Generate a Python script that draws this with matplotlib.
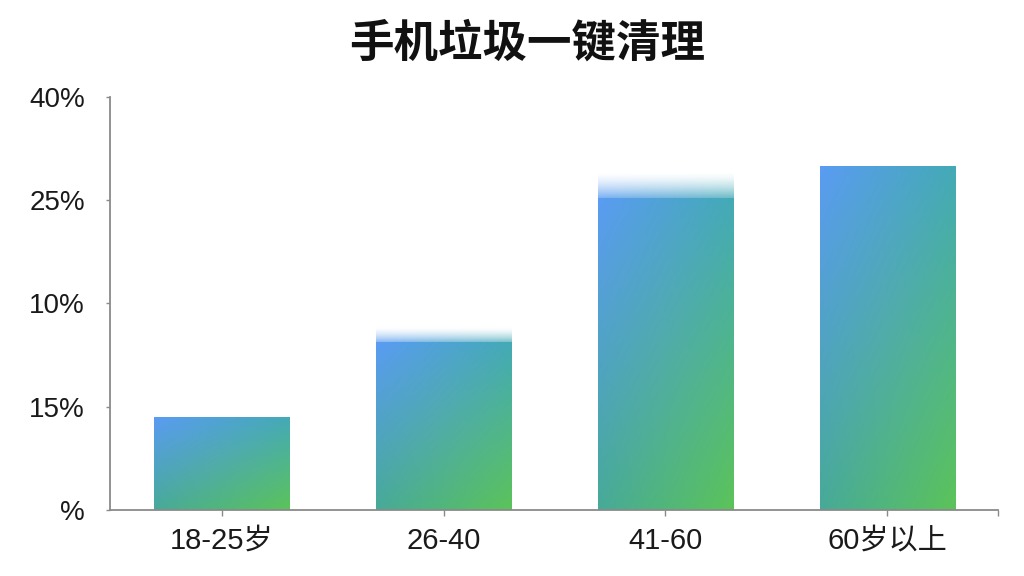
import numpy as np
import matplotlib
matplotlib.use('Agg')
import matplotlib.pyplot as plt
from matplotlib.colors import to_rgb

categories = ['18-25岁', '26-40', '41-60', '60岁以上']
values = [0.90, 1.62, 3.02, 3.33]
fade_tops = [0.90, 1.77, 3.27, 3.33]
ytick_labels = ['%', '15%', '10%', '25%', '40%']
title = '手机垃圾一键清理'

plt.rcParams['font.family'] = ['Liberation Sans', 'Noto Sans CJK SC', 'DejaVu Sans']

fig = plt.figure(figsize=(10.24, 5.76), dpi=100)
ax = fig.add_axes([0.1074, 0.1146, 0.8672, 0.717])
x = np.arange(len(categories))
width = 0.61

c_tl = np.array(to_rgb('#5a9cf2'))
c_tr = np.array(to_rgb('#44aab6'))
c_bl = np.array(to_rgb('#47aa98'))
c_br = np.array(to_rgb('#5cc35a'))
n = 64
u = np.linspace(0, 1, n)[None, :, None]
v = np.linspace(0, 1, n)[:, None, None]  # 0 = top row
img = (1-u)*(1-v)*c_tl + u*(1-v)*c_tr + (1-u)*v*c_bl + u*v*c_br

bars = ax.bar(x, values, width, color='none', edgecolor='none', zorder=2)
for rect, val, ft in zip(bars, values, fade_tops):
    x0 = rect.get_x()
    x1 = x0 + rect.get_width()
    ax.imshow(img, extent=[x0, x1, 0, val], aspect='auto', origin='upper',
              zorder=2, interpolation='bilinear')
    if ft > val:
        fade = np.zeros((n, n, 4))
        col = (1-u)*c_tl + u*c_tr
        fade[..., :3] = np.broadcast_to(col, (n, n, 3))
        a = np.linspace(0.0, 0.85, n)[:, None]
        fade[..., 3] = a ** 1.5
        ax.imshow(fade, extent=[x0, x1, val, ft], aspect='auto', origin='upper',
                  zorder=2, interpolation='bilinear')

ax.set_xlim(-0.505, 3.5)
ax.set_ylim(0, 4)
ax.set_yticks(range(len(ytick_labels)))
ax.set_yticklabels(ytick_labels)
ax.set_xticks(x)
ax.set_xticklabels(categories)
ax.set_xticks([3.5], minor=True)

for s in ['top', 'right']:
    ax.spines[s].set_visible(False)
for s in ['left', 'bottom']:
    ax.spines[s].set_color('#8a8a8a')
    ax.spines[s].set_linewidth(1.3)

ax.tick_params(axis='y', length=3, width=1, color='#8a8a8a', pad=15,
               labelsize=20, labelcolor='#1a1a1a')
ax.tick_params(axis='x', which='both', length=4, width=1, color='#8a8a8a', pad=8,
               labelsize=21, labelcolor='#1a1a1a')

fig.text(0.515, 1 - 44/576, title, ha='center', va='center', fontsize=32,
         fontweight='bold', color='#111111')

fig.savefig('out.png', dpi=100)
